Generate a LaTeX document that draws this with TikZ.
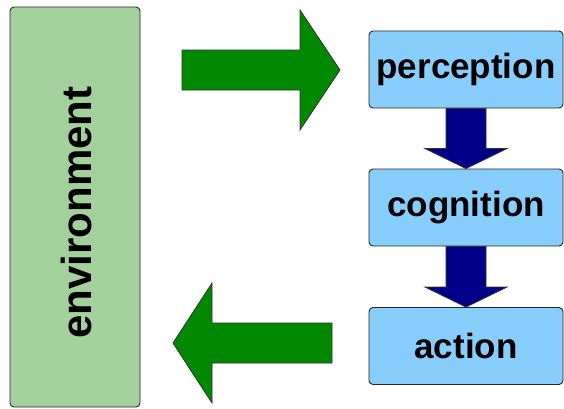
\documentclass[tikz,border=0pt]{standalone}
\usepackage{fontspec}
\setmainfont{Liberation Sans}
\usetikzlibrary{calc}
\definecolor{envgreen}{HTML}{A3D09C}
\definecolor{boxblue}{HTML}{88CEFC}
\definecolor{arrowgreen}{HTML}{008800}
\definecolor{arrownavy}{HTML}{000088}
\begin{document}
\begin{tikzpicture}[x=1pt,y=-1pt,
  stagebox/.style={draw=black!85,line width=0.9pt,fill=boxblue,rounded corners=4pt,
    minimum width=194pt,minimum height=77pt,inner sep=0pt,
    font=\fontsize{35}{40}\selectfont\bfseries},
  envbox/.style={draw=black!85,line width=0.9pt,fill=envgreen,rounded corners=4pt,
    minimum width=130pt,minimum height=400pt,inner sep=0pt},
  envlabel/.style={rotate=90,inner sep=0pt,font=\fontsize{42}{48}\selectfont\bfseries},
  greenarrow/.style={draw=black!80,line width=0.8pt,fill=arrowgreen,line join=miter},
  navyarrow/.style={draw=black!80,line width=0.8pt,fill=arrownavy,line join=miter}]
\useasboundingbox (0,0) rectangle (564,408);

% environment column
\node[envbox] (env) at (75,207) {};
\node[envlabel] (envtext) at (76,212.5) {environment};

% processing stages
\node[stagebox] (perc) at (466,69.5) {perception};
\node[stagebox] (cog) at (466,207.5) {cognition};
\node[stagebox] (act) at (466,346) {action};

% block arrows between the stages
\draw[navyarrow] ($(perc.south)+(-20,0)$) -- ($(cog.north)+(-20,-20)$)
  -- ($(cog.north)+(-41,-20)$) -- (cog.north) -- ($(cog.north)+(41,-20)$)
  -- ($(cog.north)+(20,-20)$) -- ($(perc.south)+(20,0)$) -- cycle;
\draw[navyarrow] ($(cog.south)+(-20,0)$) -- ($(act.north)+(-20,-20)$)
  -- ($(act.north)+(-41,-20)$) -- (act.north) -- ($(act.north)+(41,-20)$)
  -- ($(act.north)+(20,-20)$) -- ($(cog.south)+(20,0)$) -- cycle;

% input from the environment
\coordinate (intip) at (340,70);
\draw[greenarrow] ($(intip)+(-158,-20)$) -- ($(intip)+(-40,-20)$) -- ($(intip)+(-40,-60)$)
  -- (intip) -- ($(intip)+(-40,60)$) -- ($(intip)+(-40,20)$) -- ($(intip)+(-158,20)$) -- cycle;

% output to the environment
\coordinate (outtip) at (173,343);
\draw[greenarrow] ($(outtip)+(159,-20)$) -- ($(outtip)+(39,-20)$) -- ($(outtip)+(39,-60)$)
  -- (outtip) -- ($(outtip)+(39,60)$) -- ($(outtip)+(39,20)$) -- ($(outtip)+(159,20)$) -- cycle;
\end{tikzpicture}
\end{document}
